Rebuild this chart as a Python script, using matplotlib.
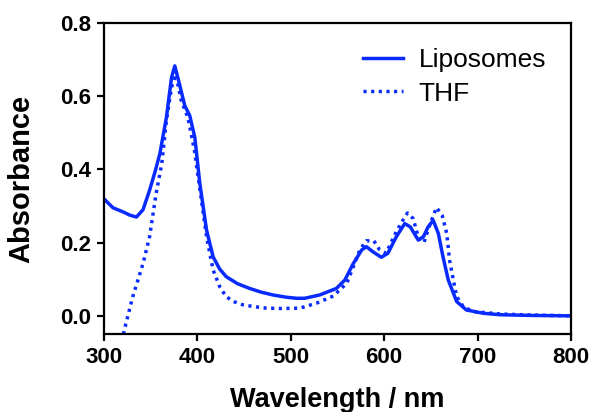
import matplotlib
matplotlib.use("Agg")
import matplotlib.pyplot as plt

plt.rcParams['font.family'] = ['Liberation Sans', 'DejaVu Sans']

# Liposomes spectrum (solid)
lipo_wl = [300, 310, 320.7, 328, 335, 342, 349, 355, 360, 367, 372.5, 376, 381, 386.7,
           392, 397.4, 402.8, 410, 417, 424, 431, 443, 456, 468, 481, 495, 506, 515,
           531, 549, 558, 567, 576, 581, 588, 597, 604, 613, 622, 628, 636.5, 642,
           647, 652.5, 658, 663, 668.6, 677.6, 688, 706, 724, 760, 800]
lipo_abs = [0.32, 0.295, 0.284, 0.275, 0.27, 0.29, 0.343, 0.395, 0.443, 0.542, 0.651, 0.683,
            0.633, 0.574, 0.547, 0.488, 0.361, 0.234, 0.161, 0.128, 0.107, 0.088, 0.075,
            0.065, 0.057, 0.051, 0.048, 0.048, 0.057, 0.075, 0.098, 0.143, 0.18, 0.189,
            0.175, 0.16, 0.171, 0.216, 0.252, 0.243, 0.207, 0.216, 0.243, 0.261, 0.225,
            0.161, 0.098, 0.039, 0.016, 0.007, 0.003, 0.001, 0.0]

# THF spectrum (dotted)
thf_wl = [321, 322.5, 331, 342, 349, 356, 362, 367, 372.5, 377, 383, 390, 397, 403, 410,
          417, 424, 431, 440, 449, 461, 474, 490, 510, 528, 545.5, 560, 567, 574, 581,
          589, 595, 602, 613, 620, 625, 631, 636.5, 642.6, 648, 656, 662, 667, 670, 674,
          677.6, 684.7, 695, 724, 760, 800]
thf_abs = [-0.05, -0.033, 0.052, 0.143, 0.216, 0.334, 0.415, 0.533, 0.624, 0.66, 0.588,
           0.542, 0.452, 0.343, 0.216, 0.125, 0.08, 0.052, 0.038, 0.03, 0.025, 0.021, 0.02,
           0.021, 0.035, 0.054, 0.089, 0.134, 0.18, 0.205, 0.205, 0.181, 0.171, 0.23,
           0.261, 0.281, 0.266, 0.216, 0.2, 0.243, 0.296, 0.275, 0.225, 0.152, 0.098,
           0.053, 0.025, 0.012, 0.005, 0.002, 0.0]

blue = '#0a2bff'

fig = plt.figure(figsize=(5.93, 4.12), dpi=100)
ax = fig.add_axes([0.175, 0.189, 0.788, 0.755])

ax.plot(lipo_wl, lipo_abs, color=blue, lw=2.5, label='Liposomes')
ax.plot(thf_wl, thf_abs, color=blue, lw=2.5, linestyle=(0, (0.9, 1.3)), label='THF')

ax.set_xlim(300, 800)
ax.set_ylim(-0.05, 0.8)
ax.set_xticks([300, 400, 500, 600, 700, 800])
ax.set_yticks([0.0, 0.2, 0.4, 0.6, 0.8])
ax.set_yticklabels(['0.0', '0.2', '0.4', '0.6', '0.8'])

for s in ax.spines.values():
    s.set_linewidth(1.6)
ax.tick_params(direction='out', length=5, width=1.6, labelsize=16, pad=4)
for lab in ax.get_xticklabels() + ax.get_yticklabels():
    lab.set_fontweight('bold')

ax.set_xlabel('Wavelength / nm', fontsize=19.5, fontweight='bold', labelpad=14)
ax.set_ylabel('Absorbance', fontsize=21, fontweight='bold', labelpad=18)

ax.legend(loc='upper right', bbox_to_anchor=(0.998, 0.995), frameon=False, fontsize=19,
          handlelength=1.5, labelspacing=0.35, handletextpad=0.6)

fig.savefig('out.png', dpi=100)
